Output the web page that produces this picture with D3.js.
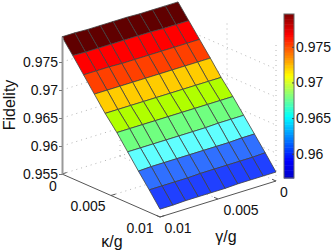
<!DOCTYPE html>
<html>
<head>
<meta charset="utf-8">
<style>
    body { margin: 0; background: #fff; }
    text { font-family: "Liberation Sans", Arial, sans-serif; fill: #111; }
    .tick-label { font-size: 14px; }
    .axis-title { font-size: 16px; }
    .grid { stroke: #b4b4b4; stroke-width: 1; stroke-dasharray: 1 4; fill: none; }
    .base { stroke: #555; stroke-width: 1; fill: none; }
    .face { stroke: #404040; stroke-width: 0.8; }
</style>
<script src="https://d3js.org/d3.v7.min.js"></script>
</head>
<body>
<svg id="chart" width="332" height="250"></svg>
<script>
    var kappaValues = [0, 0.0011, 0.0022, 0.0033, 0.0044, 0.0056, 0.0067, 0.0078, 0.0089, 0.01];
    var gammaValues = [0, 0.0011, 0.0022, 0.0033, 0.0044, 0.0056, 0.0067, 0.0078, 0.0089, 0.01];

    // one row per kappa value, one column per gamma value
    var fidelity = [
        [0.9793, 0.9793, 0.9793, 0.9793, 0.9794, 0.9794, 0.9794, 0.9794, 0.9795, 0.9795],
        [0.9768, 0.9768, 0.9768, 0.9769, 0.9769, 0.9769, 0.9769, 0.9769, 0.9769, 0.9770],
        [0.9743, 0.9743, 0.9743, 0.9743, 0.9743, 0.9743, 0.9743, 0.9744, 0.9744, 0.9744],
        [0.9718, 0.9718, 0.9718, 0.9718, 0.9718, 0.9718, 0.9718, 0.9718, 0.9718, 0.9718],
        [0.9692, 0.9692, 0.9692, 0.9692, 0.9692, 0.9692, 0.9692, 0.9692, 0.9692, 0.9692],
        [0.9667, 0.9667, 0.9667, 0.9667, 0.9667, 0.9667, 0.9667, 0.9667, 0.9667, 0.9667],
        [0.9642, 0.9642, 0.9642, 0.9641, 0.9641, 0.9641, 0.9641, 0.9641, 0.9641, 0.9641],
        [0.9617, 0.9617, 0.9616, 0.9616, 0.9616, 0.9616, 0.9616, 0.9616, 0.9616, 0.9615],
        [0.9592, 0.9591, 0.9591, 0.9591, 0.9591, 0.9591, 0.9590, 0.9590, 0.9590, 0.9590],
        [0.9566, 0.9566, 0.9566, 0.9566, 0.9565, 0.9565, 0.9565, 0.9565, 0.9564, 0.9564]
    ];

    var zTicks = [0.955, 0.96, 0.965, 0.97, 0.975];
    var gridTicks = [0, 0.005, 0.01];
    var barTicks = [0.96, 0.965, 0.97, 0.975];
    var bandLimits = [0.9591, 0.9616, 0.9641, 0.9667, 0.9692, 0.9718, 0.9743, 0.9769];
    var bandColors = ["#2040ff", "#3070ff", "#60ffff", "#70ff80", "#b0ff00", "#ffcc00", "#ff4000", "#ff0000", "#600000"];
    var jetStops = ["#0000c8", "#0000ff", "#00ffff", "#ffff00", "#ff0000", "#800000"];
    var jetPlaces = [0, 0.11, 0.375, 0.625, 0.875, 1];
    var barRange = [0.9566, 0.9796];

    var svg = d3.select("#chart");

    // oblique projection, origin is the kappa=0, gamma=0.01 floor corner
    var originX = 62, originY = 174;
    var kx = d3.scaleLinear().domain([0, 0.01]).range([0, 98]),
        ky = d3.scaleLinear().domain([0, 0.01]).range([0, 43]),
        gx = d3.scaleLinear().domain([0.01, 0]).range([0, 116]),
        gy = d3.scaleLinear().domain([0.01, 0]).range([0, -36]),
        zy = d3.scaleLinear().domain([0.955, 0.98]).range([0, -140]);

    function project(k, g, z) {
        return [originX + kx(k) + gx(g), originY + ky(k) + gy(g) + zy(z)];
    }

    var line = d3.line();
    var zBase = 0.955, zTop = 0.9795;

    function addLine(cls, points) {
        svg.append("path").attr("class", cls).attr("d", line(points));
    }

    // dotted grid on the two walls and the floor
    zTicks.forEach(function (z) {
        addLine("grid", [project(0, 0.01, z), project(0, 0, z), project(0.01, 0, z)]);
    });
    addLine("grid", [project(0, 0, zBase), project(0, 0, zTop)]);
    addLine("grid", [project(0.005, 0, zBase), project(0.005, 0, zTop)]);
    addLine("grid", [project(0.01, 0, zBase), project(0.01, 0, zTop)]);
    addLine("grid", [project(0, 0.005, zBase), project(0, 0.005, zTop)]);
    addLine("grid", [project(0.005, 0.01, zBase), project(0.005, 0, zBase)]);
    addLine("grid", [project(0, 0.005, zBase), project(0.01, 0.005, zBase)]);

    // floor edges with their tick marks
    addLine("base", [project(0, 0.01, zBase), project(0.01, 0.01, zBase), project(0.01, 0, zBase)]);
    gridTicks.forEach(function (v) {
        addLine("base", [project(v, 0.01, zBase), project(v, 0.0096, zBase)]);
        addLine("base", [project(0.01, v, zBase), project(0.0096, v, zBase)]);
    });

    // surface
    var faceColor = d3.scaleThreshold().domain(bandLimits).range(bandColors);
    var faces = [];
    d3.range(kappaValues.length - 1).forEach(function (i) {
        d3.range(gammaValues.length - 1).forEach(function (j) {
            faces.push({i: i, j: j});
        });
    });

    svg.append("g").selectAll("path")
        .data(faces)
        .enter().append("path")
        .attr("class", "face")
        .attr("fill", function (d) {
            var m = d3.mean([fidelity[d.i][d.j], fidelity[d.i][d.j + 1], fidelity[d.i + 1][d.j], fidelity[d.i + 1][d.j + 1]]);
            return faceColor(m);
        })
        .attr("d", function (d) {
            var k0 = kappaValues[d.i], k1 = kappaValues[d.i + 1],
                g0 = gammaValues[d.j], g1 = gammaValues[d.j + 1];
            return line([
                project(k0, g0, fidelity[d.i][d.j]),
                project(k0, g1, fidelity[d.i][d.j + 1]),
                project(k1, g1, fidelity[d.i + 1][d.j + 1]),
                project(k1, g0, fidelity[d.i + 1][d.j])
            ]) + "Z";
        });

    // z axis
    var zPix = d3.scaleLinear().domain([zBase, zTop]).range([originY + zy(zBase), originY + zy(zTop)]);
    var zAxis = d3.axisLeft(zPix).tickValues(zTicks).tickSizeInner(3).tickSizeOuter(0).tickPadding(1).tickFormat(String);
    var zG = svg.append("g").attr("transform", "translate(" + originX + ",0)").call(zAxis);
    zG.select(".domain").attr("stroke", "#999").attr("stroke-width", 2);
    zG.selectAll(".tick line").attr("stroke", "#777");
    zG.selectAll("text").attr("class", "tick-label");
    zG.attr("font-family", null).attr("font-size", null);

    svg.append("text").attr("class", "axis-title")
        .attr("transform", "translate(15,105) rotate(-90)")
        .attr("text-anchor", "middle").text("Fidelity");

    // floor tick labels and titles
    function floorLabel(value, x, y) {
        svg.append("text").attr("class", "tick-label")
            .attr("x", x).attr("y", y).attr("text-anchor", "middle")
            .attr("dy", "0.36em").text(value);
    }
    floorLabel(gridTicks[0], 53, 186);
    floorLabel(gridTicks[1], 88, 206);
    floorLabel(gridTicks[2], 140, 228);
    floorLabel(gridTicks[2], 178, 228);
    floorLabel(gridTicks[1], 241, 210);
    floorLabel(gridTicks[0], 284, 192);

    svg.append("text").attr("class", "axis-title")
        .attr("x", 112).attr("y", 247).attr("text-anchor", "middle").text("κ/g");
    svg.append("text").attr("class", "axis-title")
        .attr("x", 226).attr("y", 242).attr("text-anchor", "middle").text("γ/g");

    // colorbar
    var barX = 284, barW = 10;
    var barY = d3.scaleLinear().domain(barRange).range([178, 14]);
    var jet = d3.scaleLinear().domain(jetPlaces).range(jetStops);
    var levels = d3.range(64);
    var level = d3.scaleLinear().domain([0, 64]).range(barRange);

    svg.append("g").selectAll("rect")
        .data(levels)
        .enter().append("rect")
        .attr("x", barX).attr("width", barW)
        .attr("y", function (d) { return barY(level(d + 1)); })
        .attr("height", function (d) { return barY(level(d)) - barY(level(d + 1)) + 0.5; })
        .attr("fill", function (d) { return jet((d + 0.5) / 64); });

    svg.append("rect").attr("x", barX).attr("y", 14).attr("width", barW).attr("height", 164)
        .attr("fill", "none").attr("stroke", "#666").attr("stroke-width", 1);

    var barAxis = d3.axisRight(barY).tickValues(barTicks).tickSize(2).tickPadding(0).tickFormat(String);
    var barG = svg.append("g").attr("transform", "translate(" + (barX + barW) + ",0)").call(barAxis);
    barG.select(".domain").remove();
    barG.selectAll(".tick line").attr("stroke", "#444").attr("x1", -2).attr("x2", 0);
    barG.selectAll("text").attr("class", "tick-label").attr("x", 2);
    barG.attr("font-family", null).attr("font-size", null);
</script>
</body>
</html>
